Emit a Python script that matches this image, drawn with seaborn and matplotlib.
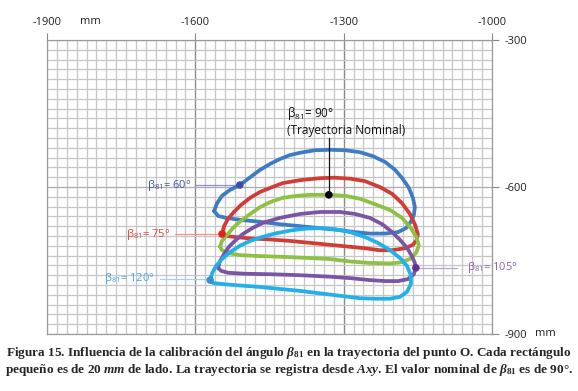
import numpy as np
import pandas as pd
import matplotlib
matplotlib.use("Agg")
import matplotlib.pyplot as plt
import seaborn as sns

sns.set_style("white")
plt.rcParams['font.family'] = ['Open Sans', 'DejaVu Sans']
plt.rcParams['mathtext.fontset'] = 'custom'
plt.rcParams['mathtext.rm'] = 'Liberation Serif:bold'
plt.rcParams['mathtext.it'] = 'Liberation Serif:bold:italic'
plt.rcParams['mathtext.bf'] = 'Liberation Serif:bold'
plt.rcParams['mathtext.sf'] = 'Open Sans'

# ---- data (mm) ----
x_ticks = [-1900, -1600, -1300, -1000]
y_ticks = [-300, -600, -900]

beta60_x = [-1562, -1556, -1546, -1530, -1510, -1489, -1469, -1449, -1429, -1409, -1388, -1358, -1328, -1297, -1267,
            -1241, -1216, -1196, -1180, -1168, -1160, -1156, -1158, -1164, -1174, -1190, -1216, -1247, -1277, -1307,
            -1348, -1388, -1429, -1469, -1510, -1538, -1554, -1562]
beta60_y = [-649, -633, -618, -606, -596, -580, -565, -553, -543, -535, -530, -525, -524, -525, -529,
            -537, -549, -565, -584, -602, -622, -641, -657, -671, -684, -692, -695, -695, -692, -688,
            -684, -680, -676, -671, -667, -663, -659, -649]

beta75_x = [-1546, -1542, -1534, -1522, -1508, -1489, -1469, -1449, -1423, -1388, -1348, -1318, -1287, -1257, -1227,
            -1202, -1182, -1166, -1156, -1150, -1152, -1160, -1176, -1202, -1227, -1257, -1287, -1328, -1368, -1409,
            -1449, -1489, -1520, -1538, -1546]
beta75_y = [-696, -680, -665, -651, -637, -622, -610, -602, -592, -586, -582, -581, -583, -588, -600,
            -614, -633, -655, -676, -696, -708, -718, -725, -729, -729, -725, -722, -718, -714, -710,
            -707, -705, -702, -700, -696]

beta90_x = [-1550, -1546, -1536, -1524, -1510, -1489, -1469, -1449, -1423, -1394, -1368, -1330, -1297, -1267, -1237,
            -1206, -1182, -1164, -1152, -1148, -1154, -1166, -1186, -1206, -1247, -1287, -1328, -1368, -1409, -1469,
            -1510, -1534, -1546, -1550]
beta90_y = [-722, -710, -698, -684, -671, -655, -641, -631, -622, -618, -616, -616, -618, -624, -635,
            -647, -663, -684, -704, -720, -735, -747, -754, -756, -755, -752, -747, -745, -743, -741,
            -739, -735, -729, -722]

beta105_x = [-1554, -1550, -1542, -1532, -1520, -1504, -1485, -1463, -1429, -1388, -1348, -1307, -1277, -1247, -1222,
             -1202, -1186, -1172, -1162, -1156, -1154, -1158, -1170, -1190, -1216, -1247, -1287, -1328, -1388, -1449,
             -1500, -1534, -1548, -1554]
beta105_y = [-765, -751, -737, -722, -710, -696, -684, -673, -663, -655, -651, -651, -655, -663, -676,
             -692, -708, -724, -741, -755, -765, -778, -788, -792, -792, -790, -786, -783, -780, -778,
             -777, -775, -771, -765]

beta120_x = [-1570, -1566, -1558, -1546, -1530, -1510, -1489, -1465, -1439, -1409, -1378, -1348, -1318, -1287, -1257,
             -1231, -1206, -1186, -1172, -1164, -1164, -1172, -1186, -1206, -1237, -1267, -1307, -1348, -1388, -1429,
             -1469, -1510, -1546, -1564, -1570]
beta120_y = [-790, -776, -761, -747, -733, -720, -710, -702, -695, -689, -685, -684, -686, -692, -702,
             -714, -729, -745, -761, -780, -798, -814, -824, -828, -828, -827, -822, -817, -812, -808,
             -804, -801, -798, -796, -790]

# marker points (selected points on each trajectory)
mark_x = [-1510, -1546, -1330, -1154, -1570]
mark_y = [-596, -696, -616, -765, -790]

curves = [
    ("60", beta60_x, beta60_y, "#3d7cc4"),
    ("75", beta75_x, beta75_y, "#d13d36"),
    ("90", beta90_x, beta90_y, "#8dc043"),
    ("105", beta105_x, beta105_y, "#7a55a3"),
    ("120", beta120_x, beta120_y, "#22b0ea"),
]
mark_colors = ["#3a4fa8", "#e8201c", "#000000", "#6a2f95", "#3a8fd0"]

fig = plt.figure(figsize=(5.78, 3.91), dpi=100)
ax = fig.add_axes([47/578, 1-334/391, 445/578, 294/391])

# grid
for v in np.arange(-1900, -999, 20):
    major = (v in (-1600, -1300))
    ax.axvline(v, color="#8a8a8a" if major else "#c6c6c6", lw=1.0 if major else 0.9, zorder=0)
for v in np.arange(-900, -299, 20):
    major = (v == -600)
    ax.axhline(v, color="#aaaaaa" if major else "#c6c6c6", lw=0.9, zorder=0)

for name, xs, ys, col in curves:
    df = pd.DataFrame({"x": xs, "y": ys})
    sns.lineplot(data=df, x="x", y="y", sort=False, estimator=None, color=col,
                 lw=2.7, ax=ax, zorder=3, solid_joinstyle="round", solid_capstyle="round")

sns.scatterplot(x=mark_x, y=mark_y, hue=[str(i) for i in range(5)], palette=mark_colors,
                s=30, ax=ax, zorder=5, legend=False, edgecolor="none")

ax.set_xlim(-1900, -1000)
ax.set_ylim(-900, -300)
ax.xaxis.tick_top()
ax.yaxis.tick_right()
ax.set_xticks(x_ticks)
ax.set_yticks(y_ticks)
ax.set_xticklabels([str(t) for t in x_ticks])
ax.set_yticklabels([str(t) for t in y_ticks])
ax.tick_params(axis="x", top=True, bottom=False, length=5, color="#888888", labelsize=8, pad=4, labelcolor="#222222")
ax.tick_params(axis="y", right=True, left=False, length=5, color="#888888", labelsize=8, pad=4, labelcolor="#222222")
ax.set_xlabel("")
ax.set_ylabel("")
for s in ax.spines.values():
    s.set_color("#9a9a9a")
    s.set_linewidth(0.9)

# units
fig.text(90/578, 1-21/391, "mm", ha="center", va="center", fontsize=8, color="#222222")
fig.text(535/578, 1-334/391, "mm", ha="left", va="center", fontsize=8, color="#222222")

# labels
def blabel(x, y, val, col, ha):
    ax.text(x, y, r"$\mathsf{\beta_{81}}$= " + val + "°", ha=ha, va="center", fontsize=8,
            color=col, zorder=6)

blabel(-1607, -596, "60", "#4550a8", "right")
ax.plot([-1601, -1510], [-596, -596], color="#8d8fd0", lw=0.9, zorder=2)
blabel(-1651, -696, "75", "#e2453e", "right")
ax.plot([-1641, -1546], [-696, -696], color="#f09090", lw=0.9, zorder=2)
blabel(-1682, -786, "120", "#45a8df", "right")
ax.plot([-1671, -1570], [-788, -788], color="#9fd3f2", lw=0.9, zorder=2)
blabel(-1050, -765, "105", "#8a62b2", "left")
ax.plot([-1152, -1071], [-765, -765], color="#b9a2d4", lw=0.9, zorder=2)

ax.text(-1415, -449, r"$\mathsf{\beta_{81}}$= 90°", ha="left", va="center", fontsize=8.5, color="#111111", zorder=6)
ax.text(-1415, -484, "(Trayectoria Nominal)", ha="left", va="center", fontsize=8.5, color="#111111", zorder=6)
ax.plot([-1330, -1330], [-500, -616], color="#111111", lw=0.9, zorder=4)

# caption
cap1 = r"Figura 15. Influencia de la calibración del ángulo $\beta_{81}$ en la trayectoria del punto O. Cada rectángulo"
cap2 = r"pequeño es de 20 $mm$ de lado. La trayectoria se registra desde $Axy$. El valor nominal de $\beta_{81}$ es de 90°."
fig.text(0.5, 1-353/391, cap1, ha="center", va="center", fontsize=9.5,
         fontfamily="Liberation Serif", fontweight="bold")
fig.text(0.5, 1-370/391, cap2, ha="center", va="center", fontsize=9.5,
         fontfamily="Liberation Serif", fontweight="bold")

fig.savefig("out.png", dpi=100)
